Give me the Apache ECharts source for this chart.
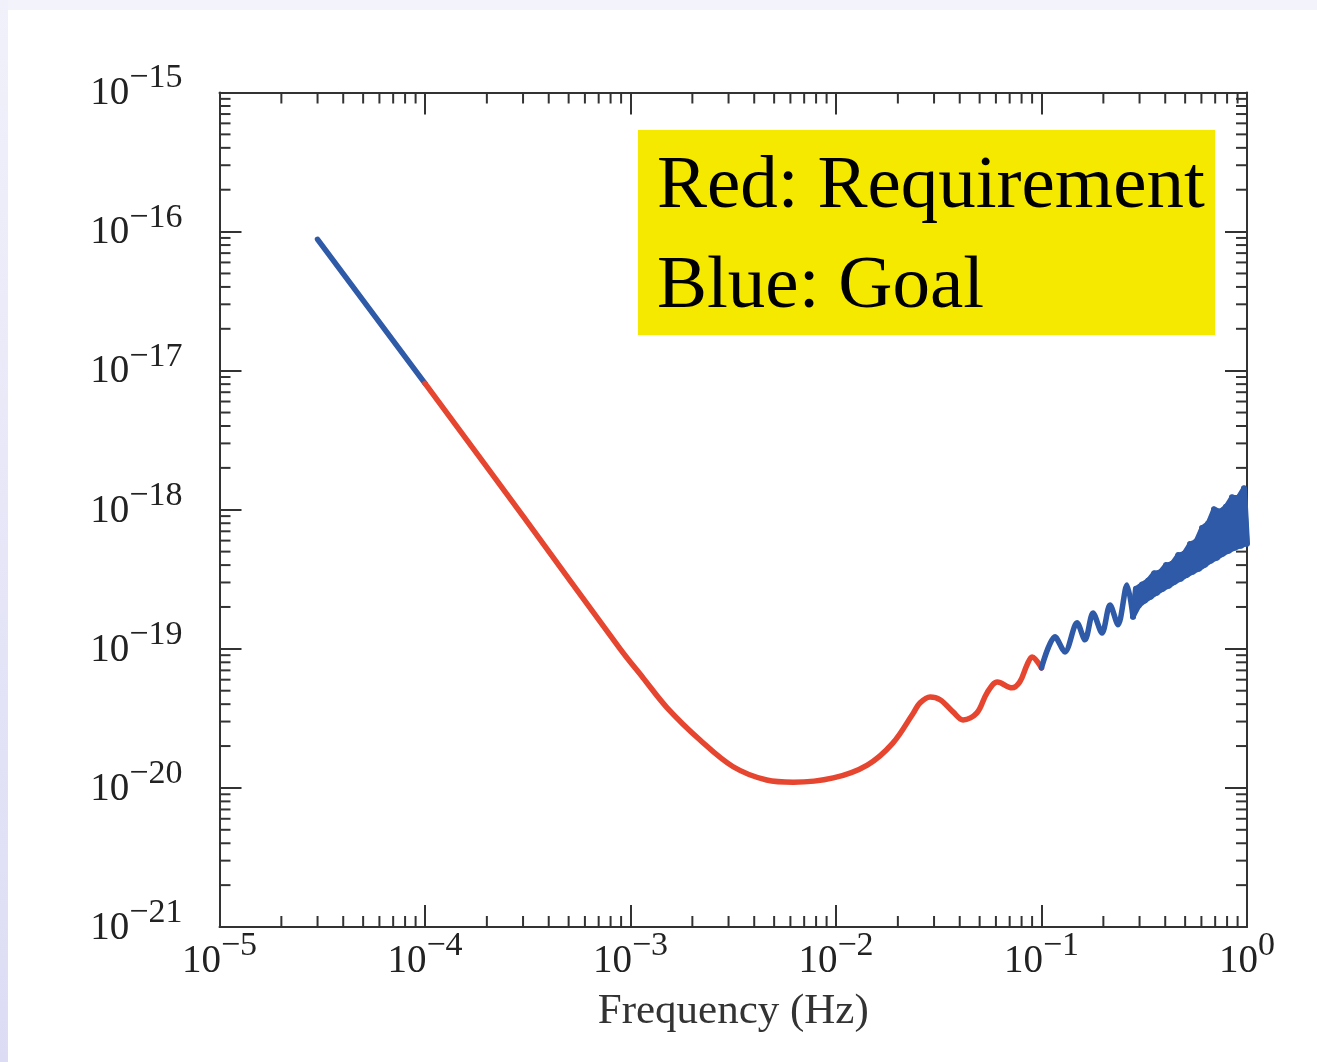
<!DOCTYPE html>
<html>
<head>
<meta charset="utf-8">
<script src="https://cdn.jsdelivr.net/npm/echarts@6/dist/echarts.min.js"></script>
<style>
html,body{margin:0;padding:0;}
#frame{position:relative;width:1317px;height:1062px;background:#f3f3fb;overflow:hidden;}
#strip{position:absolute;left:0;top:0;width:8px;height:1062px;background:linear-gradient(#f1f1fb,#dcdcf5);}
#card{position:absolute;left:8px;top:10px;right:0;bottom:0;background:#ffffff;}
#chart{position:absolute;left:0;top:0;width:1317px;height:1062px;}
</style>
</head>
<body>
<div id="frame"><div id="strip"></div><div id="card"></div><div id="chart"></div></div>
<script>
// ---- data ----
const goalLowF = [3.0e-5, 1e-4];
const goalLowV = [8.8e-17, 8.1e-18];

const reqF = [1e-4, 3e-4, 8.9e-4, 1.15e-3, 1.5e-3, 2.18e-3, 3.16e-3, 4.6e-3, 6.2e-3, 9.7e-3,
  1.42e-2, 1.89e-2, 2.38e-2, 2.56e-2, 2.87e-2, 3.21e-2, 3.71e-2, 4.15e-2, 4.85e-2, 5.43e-2,
  6.1e-2, 7.18e-2, 7.85e-2, 8.5e-2, 9.0e-2, 0.1];
const reqV = [8.1e-18, 9.0e-19, 1.0e-19, 6.2e-20, 3.8e-20, 2.21e-20, 1.42e-20, 1.14e-20, 1.10e-20, 1.18e-20,
  1.46e-20, 2.10e-20, 3.46e-20, 4.08e-20, 4.51e-20, 4.30e-20, 3.52e-20, 3.08e-20, 3.46e-20, 4.82e-20,
  5.78e-20, 5.24e-20, 5.8e-20, 7.66e-20, 8.75e-20, 7.3e-20];

// goal above 0.1 Hz: first the separate wiggles, then the dense noisy band
const goalWiggleF = [0.1, 0.1163, 0.1301, 0.1489, 0.1628, 0.1781, 0.1970, 0.2155, 0.2357, 0.2606, 0.2788];
const goalWiggleV = [7.3e-20, 1.22e-19, 9.5e-20, 1.54e-19, 1.16e-19, 1.81e-19, 1.30e-19, 2.07e-19, 1.49e-19, 2.88e-19, 1.70e-19];

// alternating lower / upper envelope readings of the band
const goalBandF = [0.2788,
  0.288, 0.298, 0.308, 0.319, 0.330, 0.341, 0.353, 0.365, 0.377, 0.390,
  0.403, 0.417, 0.432, 0.446, 0.462, 0.477, 0.494, 0.511, 0.528, 0.546,
  0.565, 0.584, 0.604, 0.625, 0.646, 0.668, 0.691, 0.715, 0.739, 0.764,
  0.790, 0.817, 0.845, 0.874, 0.904, 0.935, 0.967, 1.0];
const goalBandV = [1.70e-19,
  2.70e-19, 2.05e-19, 2.90e-19, 2.22e-19, 3.10e-19, 2.37e-19, 3.50e-19, 2.53e-19, 3.55e-19, 2.70e-19,
  4.00e-19, 2.84e-19, 4.10e-19, 3.03e-19, 4.72e-19, 3.19e-19, 4.84e-19, 3.40e-19, 5.66e-19, 3.58e-19,
  5.90e-19, 3.76e-19, 7.38e-19, 4.02e-19, 7.95e-19, 4.30e-19, 1.01e-18, 4.52e-19, 9.70e-19, 4.82e-19,
  1.05e-18, 5.07e-19, 1.23e-18, 5.33e-19, 1.22e-18, 5.51e-19, 1.43e-18, 5.70e-19];

const xTickExponents = ['−5', '−4', '−3', '−2', '−1', '0'];
const yTickExponents = ['−21', '−20', '−19', '−18', '−17', '−16', '−15'];
const xDecades = [1e-5, 1e-4, 1e-3, 1e-2, 1e-1];
const yDecades = [1e-21, 1e-20, 1e-19, 1e-18, 1e-17, 1e-16];
const minorMantissas = [2, 3, 4, 5, 6, 7, 8, 9];

const legendLines = ['Red: Requirement', 'Blue: Goal'];
const xTitle = 'Frequency (Hz)';

// ---- build ----
// ECharts rounds log-axis limits to 20 decimals, so 1e-21 would collapse to 0:
// the y values are handed to the library in units of 1e-21 (labels show true exponents).
const Y_UNIT = 1e-21;
const X_MIN = 1e-5, X_MAX = 1, Y_MIN = 1e-21 / Y_UNIT, Y_MAX = 1e-15 / Y_UNIT;
const RED = '#e6452f', BLUE = '#2e5aa8', AX = '#333333';
const SERIF = '"Liberation Serif", "DejaVu Serif", serif';

const pairs = (f, v) => f.map((x, i) => [x, v[i] / Y_UNIT]);
const xMinor = [], yMinor = [];
xDecades.forEach(d => minorMantissas.forEach(m => xMinor.push([m * d, Y_MIN])));
yDecades.forEach(d => minorMantissas.forEach(m => yMinor.push([X_MIN, m * d / Y_UNIT])));

function expIndex(v) { return Math.round(Math.log10(v)); }

const richStyle = {
  b: { fontSize: 39, fontFamily: SERIF, color: '#222', verticalAlign: 'bottom', lineHeight: 52 },
  s: { fontSize: 34, fontFamily: SERIF, color: '#222', verticalAlign: 'top', lineHeight: 52 }
};

const commonAxis = {
  type: 'log', logBase: 10,
  axisLine: { show: true, onZero: false, lineStyle: { color: AX, width: 2 } },
  axisTick: { show: true, inside: true, length: 22, lineStyle: { color: AX, width: 2 } },
  splitLine: { show: false },
  minorTick: { show: false }
};

const TICK_MINOR = 11;
function xMinorRender(params, api) {
  const v = api.value(0);
  const b = api.coord([v, Y_MIN]);
  const t = api.coord([v, Y_MAX]);
  const st = { stroke: AX, lineWidth: 2 };
  return { type: 'group', children: [
    { type: 'line', shape: { x1: b[0], y1: b[1], x2: b[0], y2: b[1] - TICK_MINOR }, style: st },
    { type: 'line', shape: { x1: t[0], y1: t[1], x2: t[0], y2: t[1] + TICK_MINOR }, style: st }
  ]};
}
function yMinorRender(params, api) {
  const v = api.value(1);
  const l = api.coord([X_MIN, v]);
  const r = api.coord([X_MAX, v]);
  const st = { stroke: AX, lineWidth: 2 };
  return { type: 'group', children: [
    { type: 'line', shape: { x1: l[0], y1: l[1], x2: l[0] + TICK_MINOR, y2: l[1] }, style: st },
    { type: 'line', shape: { x1: r[0], y1: r[1], x2: r[0] - TICK_MINOR, y2: r[1] }, style: st }
  ]};
}
// fills the noisy band between its alternating envelope readings
function bandRender(params, api) {
  if (params.dataIndex !== 0) return null;
  const a = [], b = [];
  goalBandF.forEach((f, i) => {
    const p = api.coord([f, goalBandV[i] / Y_UNIT]);
    (i % 2 === 0 ? a : b).push(p);
  });
  return { type: 'polygon', shape: { points: a.concat(b.reverse()) },
    style: { fill: BLUE, stroke: BLUE, lineWidth: 5, lineJoin: 'round' } };
}

const chart = echarts.init(document.getElementById('chart'), null, { renderer: 'canvas' });
function lineSeries(name, data, color, width, smooth, z) {
  return { type: 'line', name: name, data: data, showSymbol: false, symbol: 'none', clip: false, silent: true,
    smooth: smooth, z: z, itemStyle: { color: color },
    lineStyle: { color: color, width: width, cap: 'round', join: 'round' } };
}

chart.setOption({
  animation: false,
  backgroundColor: 'transparent',
  grid: { left: 219.5, top: 92.5, right: 70, bottom: 135, containLabel: false },
  xAxis: [
    Object.assign({}, commonAxis, {
      min: X_MIN, max: X_MAX, position: 'bottom', splitNumber: 5,
      axisLabel: { margin: 2, formatter: v => '{b|10}{s|' + xTickExponents[expIndex(v) + 5] + '}', rich: richStyle },
      name: xTitle, nameLocation: 'middle', nameGap: 63,
      nameTextStyle: { fontFamily: SERIF, fontSize: 43, color: '#333', verticalAlign: 'top' }
    }),
    Object.assign({}, commonAxis, {
      min: X_MIN, max: X_MAX, position: 'top', splitNumber: 5,
      axisLabel: { show: false }
    })
  ],
  yAxis: [
    Object.assign({}, commonAxis, {
      min: Y_MIN, max: Y_MAX, position: 'left', splitNumber: 6,
      axisLabel: { margin: 37, padding: [0, 0, 10, 0],
        formatter: v => '{b|10}{s|' + yTickExponents[expIndex(v)] + '}', rich: richStyle }
    }),
    Object.assign({}, commonAxis, {
      min: Y_MIN, max: Y_MAX, position: 'right', splitNumber: 6,
      axisLabel: { show: false }
    })
  ],
  series: [
    { type: 'custom', renderItem: xMinorRender, data: xMinor, silent: true, clip: false, z: 1 },
    { type: 'custom', renderItem: yMinorRender, data: yMinor, silent: true, clip: false, z: 1 },
    lineSeries('Goal', pairs(goalLowF, goalLowV), BLUE, 5.5, false, 3),
    lineSeries('Requirement', pairs(reqF, reqV), RED, 5.5, 0.35, 3),
    lineSeries('Goal wiggles', pairs(goalWiggleF, goalWiggleV), BLUE, 5.5, 0.3, 4),
    { type: 'custom', name: 'Goal band fill', renderItem: bandRender, data: pairs(goalBandF, goalBandV).slice(0, 1),
      silent: true, clip: false, z: 4 },
    lineSeries('Goal band', pairs(goalBandF, goalBandV), BLUE, 6, false, 4)
  ],
  graphic: [
    { type: 'rect', left: 638, top: 130, shape: { width: 577, height: 205 }, style: { fill: '#f5e900' }, z: 10 },
    { type: 'text', x: 657, y: 187, z: 11, style: { text: legendLines[0], font: '75px ' + SERIF, fill: '#000', verticalAlign: 'middle', align: 'left' } },
    { type: 'text', x: 657, y: 287, z: 11, style: { text: legendLines[1], font: '75px ' + SERIF, fill: '#000', verticalAlign: 'middle', align: 'left' } }
  ]
});
</script>
</body>
</html>
